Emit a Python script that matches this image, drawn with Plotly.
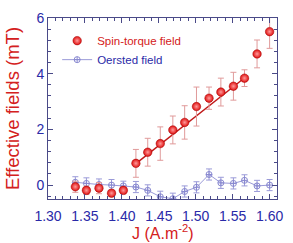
import plotly.graph_objects as go

J = [1.337, 1.352, 1.369, 1.386, 1.402, 1.419, 1.435, 1.452, 1.469, 1.485,
     1.501, 1.518, 1.534, 1.551, 1.566, 1.583, 1.600]

spin_torque = [-0.06, -0.19, -0.11, -0.29, -0.19, 0.78, 1.18, 1.49, 1.98, 2.25,
               2.82, 3.12, 3.34, 3.55, 3.84, 4.71, 5.51]
spin_err = [0.2, 0.15, 0.2, 0.12, 0.12, 0.5, 0.5, 0.6, 0.5, 0.6,
            0.7, 0.4, 0.5, 0.5, 0.3, 0.5, 0.6]

oersted = [0.10, 0.06, 0.02, 0.0, -0.03, -0.07, -0.19, -0.42, -0.49, -0.23,
           -0.08, 0.38, 0.08, 0.06, 0.17, -0.03, 0.0]
oersted_err = [0.2, 0.2, 0.2, 0.2, 0.17, 0.2, 0.2, 0.2, 0.2, 0.2,
               0.2, 0.2, 0.2, 0.2, 0.2, 0.2, 0.2]

fit_J = [1.419, 1.568]
fit_field = [0.77, 3.89]

x_title = "J (A.m<sup>-2</sup>)"
y_title = "Effective fields (mT)"

RED = "#d42020"
BLUE = "#2a2aa8"
FRAME = "#4a4a88"

fig = go.Figure()

fig.add_trace(go.Scatter(
    x=J, y=oersted, mode="lines+markers",
    name="<span style='color:%s'>Oersted field</span>" % BLUE,
    line=dict(color="#9a9ad8", width=1),
    marker=dict(symbol="circle-cross-open", size=6, color="#8888d0",
                line=dict(width=1)),
    error_y=dict(type="data", array=oersted_err, color="#9a9ad8",
                 thickness=1, width=3),
    legendrank=2,
))

fig.add_trace(go.Scatter(
    x=fit_J, y=fit_field, mode="lines", showlegend=False,
    line=dict(color="#c01818", width=1.4),
))

fig.add_trace(go.Scatter(
    x=J, y=spin_torque, mode="markers",
    name="<span style='color:%s'>Spin-torque field</span>" % RED,
    marker=dict(symbol="circle", size=8.5, color="#e01010",
                gradient=dict(type="radial", color="#ff9a9a"),
                line=dict(color="#a00000", width=0.5)),
    error_y=dict(type="data", array=spin_err, color="#e09a9a",
                 thickness=1, width=3),
    legendrank=1,
))

axis_common = dict(
    showline=True, linecolor=FRAME, linewidth=1, mirror="allticks",
    ticks="inside", ticklen=5, tickcolor=FRAME,
    showgrid=False, zeroline=False,
    tickfont=dict(family="Liberation Sans, Arial", size=14, color=BLUE),
)

fig.update_layout(
    width=293, height=243,
    margin=dict(l=48, r=14, t=10, b=44),
    paper_bgcolor="white", plot_bgcolor="white",
    showlegend=True,
    legend=dict(x=0.04, y=0.955, xanchor="left", yanchor="top",
                bgcolor="rgba(0,0,0,0)", tracegroupgap=0,
                font=dict(family="Liberation Sans, Arial", size=11.5),
                itemwidth=30),
    xaxis=dict(axis_common, range=[1.30, 1.61], dtick=0.05, tick0=1.30,
               tickformat=".2f", ticklabelstandoff=4,
               minor=dict(dtick=0.01, ticks="inside", ticklen=3, tickcolor=FRAME)),
    yaxis=dict(axis_common, range=[-0.5, 6], dtick=2, tick0=0,
               minor=dict(dtick=0.4, ticks="inside", ticklen=3, tickcolor=FRAME),
               title=dict(text=y_title, standoff=11,
                          font=dict(family="Liberation Sans, Arial", size=18.5, color=RED))),
    annotations=[dict(text=x_title, xref="paper", yref="paper", x=0.5, y=-0.18,
                      xanchor="center", yanchor="middle", showarrow=False,
                      font=dict(family="Liberation Sans, Arial", size=16, color=RED))],
)

fig.write_html("out.html", config={"displayModeBar": False},
               post_script="document.body.style.margin='0';document.body.style.overflow='hidden';")
